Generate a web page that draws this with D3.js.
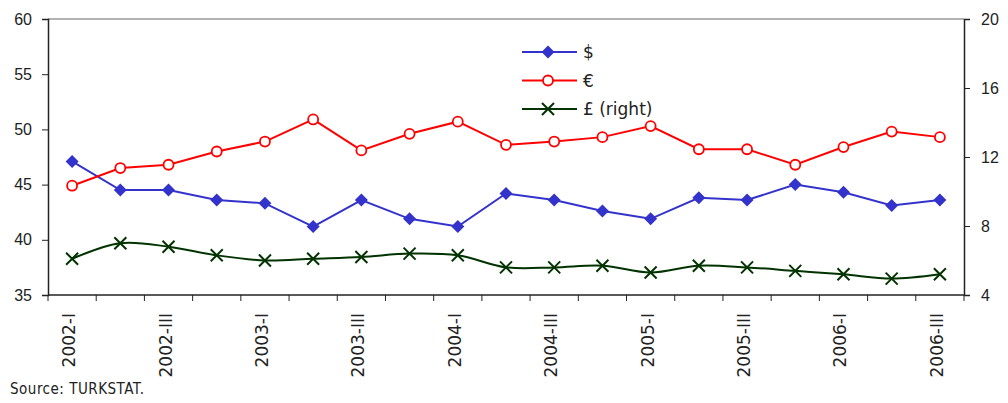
<!DOCTYPE html>
<html>
<head>
<meta charset="utf-8">
<script src="https://cdn.jsdelivr.net/npm/d3@7"></script>
<style>
  body { margin: 0; background: #fff; }
  svg { display: block; font-family: "DejaVu Sans", sans-serif; }
</style>
</head>
<body>
<svg id="chart" width="1008" height="403"></svg>
<script>
const quarters = ["2002-I","2002-II","2002-III","2002-IV","2003-I","2003-II","2003-III","2003-IV",
  "2004-I","2004-II","2004-III","2004-IV","2005-I","2005-II","2005-III","2005-IV",
  "2006-I","2006-II","2006-III"];
const usd = [47.1,44.5,44.5,43.6,43.3,41.2,43.6,41.9,41.2,44.2,43.6,42.6,41.9,43.8,43.6,45.0,44.3,43.1,43.6];
const eur = [44.9,46.5,46.8,48.0,48.9,50.9,48.1,49.6,50.7,48.6,48.9,49.3,50.3,48.2,48.2,46.8,48.4,49.8,49.3];
const gbp = [6.1,7.0,6.8,6.3,6.0,6.1,6.2,6.4,6.3,5.6,5.6,5.7,5.3,5.7,5.6,5.4,5.2,4.95,5.2];
const leftTicks = [35,40,45,50,55,60];
const rightTicks = [4,8,12,16,20];
const xLabels = quarters.filter((q, i) => i % 2 === 0);

const svg = d3.select("#chart");
const plotL = 48, plotR = 964, plotT = 19, plotB = 295;

const x = d3.scaleBand().domain(quarters).range([plotL, plotR]);
const yL = d3.scaleLinear().domain([35, 60]).range([plotB, plotT]);
const yR = d3.scaleLinear().domain([4, 20]).range([plotB, plotT]);
const cx = d => x(d) + x.bandwidth() / 2;

// top border
svg.append("line")
  .attr("x1", plotL).attr("x2", plotR).attr("y1", plotT).attr("y2", plotT)
  .attr("stroke", "#999").attr("stroke-width", 1.5);

// left axis
const gL = svg.append("g").attr("transform", `translate(${plotL},0)`)
  .call(d3.axisLeft(yL).tickValues(leftTicks).tickSize(6).tickPadding(10));
// right axis
const gR = svg.append("g").attr("transform", `translate(${plotR},0)`)
  .call(d3.axisRight(yR).tickValues(rightTicks).tickSize(6).tickPadding(11));
// bottom axis: ticks on category boundaries
const gB = svg.append("g").attr("transform", `translate(0,${plotB})`);
gB.append("line").attr("x1", plotL).attr("x2", plotR).attr("stroke", "#222").attr("stroke-width", 1.5);
gB.selectAll("line.tk")
  .data(quarters.map(q => x(q)).concat([plotR]))
  .enter().append("line").attr("class", "tk")
  .attr("x1", d => d).attr("x2", d => d).attr("y1", 0).attr("y2", 6)
  .attr("stroke", "#222");
gB.selectAll("text")
  .data(xLabels)
  .enter().append("text")
  .attr("transform", d => `translate(${cx(d) + 3},18) rotate(-90)`)
  .attr("text-anchor", "end")
  .attr("font-size", 17)
  .attr("fill", "#222")
  .text(d => d);

[gL, gR].forEach(g => {
  g.select(".domain").attr("stroke", "#222").attr("stroke-width", 1.5);
  g.selectAll(".tick line").attr("stroke", "#222");
  g.selectAll(".tick text").attr("font-size", 16).attr("fill", "#222");
});

// series
const blue = "#3333CC", red = "#FF0000", green = "#003300";

svg.append("path").datum(usd)
  .attr("fill", "none").attr("stroke", blue).attr("stroke-width", 2)
  .attr("d", d3.line().x((d, i) => cx(quarters[i])).y(d => yL(d)));
svg.append("path").datum(eur)
  .attr("fill", "none").attr("stroke", red).attr("stroke-width", 2)
  .attr("d", d3.line().x((d, i) => cx(quarters[i])).y(d => yL(d)));
svg.append("path").datum(gbp)
  .attr("fill", "none").attr("stroke", green).attr("stroke-width", 2)
  .attr("d", d3.line().curve(d3.curveCatmullRom).x((d, i) => cx(quarters[i])).y(d => yR(d)));

const diamond = "M0,-6.5L6.5,0L0,6.5L-6.5,0Z";
const cross = "M-6,-6L6,6M-6,6L6,-6";

svg.selectAll("path.usd").data(usd).enter().append("path").attr("class", "usd")
  .attr("d", diamond).attr("fill", blue)
  .attr("transform", (d, i) => `translate(${cx(quarters[i])},${yL(d)})`);
svg.selectAll("circle.eur").data(eur).enter().append("circle").attr("class", "eur")
  .attr("r", 5).attr("fill", "#fff").attr("stroke", red).attr("stroke-width", 1.8)
  .attr("cx", (d, i) => cx(quarters[i])).attr("cy", d => yL(d));
svg.selectAll("path.gbp").data(gbp).enter().append("path").attr("class", "gbp")
  .attr("d", cross).attr("stroke", green).attr("stroke-width", 2).attr("fill", "none")
  .attr("transform", (d, i) => `translate(${cx(quarters[i])},${yR(d)})`);

// legend
const legend = [
  { name: "$", color: blue, mark: "diamond" },
  { name: "€", color: red, mark: "circle" },
  { name: "£ (right)", color: green, mark: "cross" }
];
const lg = svg.append("g").attr("transform", "translate(522,52)");
legend.forEach((s, i) => {
  const g = lg.append("g").attr("transform", `translate(0,${i * 28.5})`);
  g.append("line").attr("x1", 0).attr("x2", 55).attr("stroke", s.color).attr("stroke-width", 2);
  if (s.mark === "diamond") g.append("path").attr("d", diamond).attr("fill", s.color).attr("transform", "translate(26,0)");
  if (s.mark === "circle") g.append("circle").attr("cx", 26).attr("r", 5).attr("fill", "#fff").attr("stroke", s.color).attr("stroke-width", 1.8);
  if (s.mark === "cross") g.append("path").attr("d", cross).attr("stroke", s.color).attr("stroke-width", 2).attr("transform", "translate(26,0)");
  g.append("text").attr("x", 61).attr("y", 6).attr("font-size", 17).attr("fill", "#222").text(s.name);
});

svg.append("text").attr("x", 10).attr("y", 394)
  .attr("font-size", 15).attr("fill", "#222")
  .attr("font-family", "DejaVu Sans Condensed, sans-serif")
  .attr("letter-spacing", 0.5)
  .text("Source: TURKSTAT.");
</script>
</body>
</html>
